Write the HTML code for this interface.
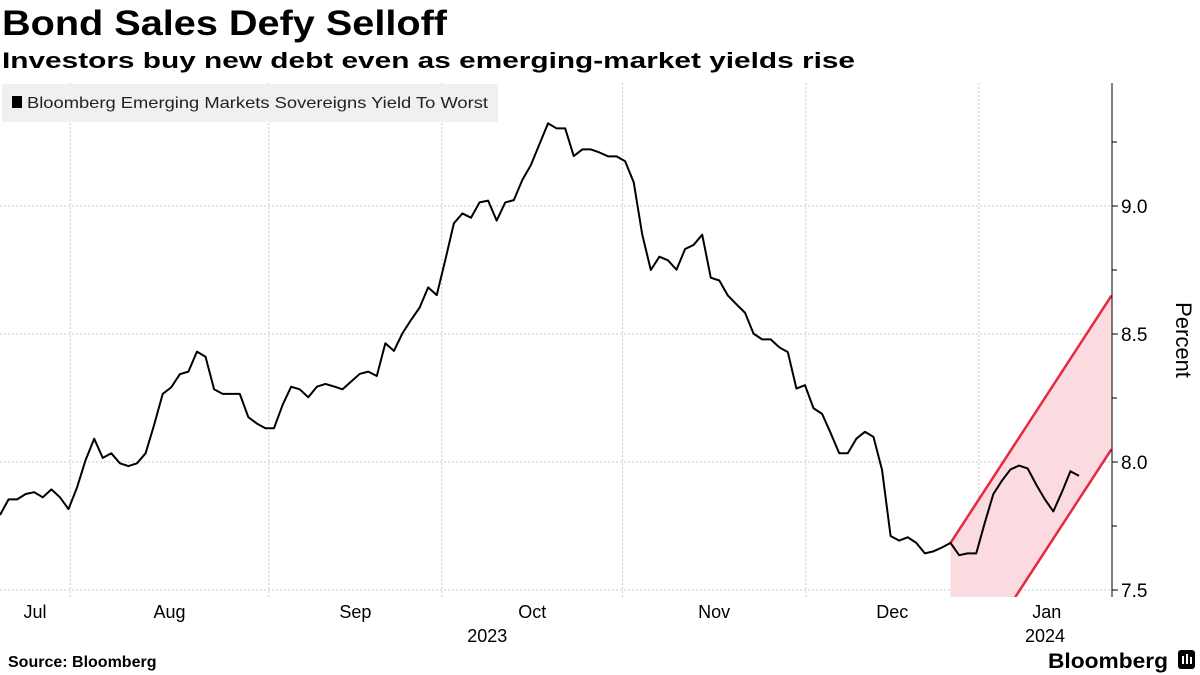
<!DOCTYPE html>
<html><head><meta charset="utf-8">
<style>
html,body{margin:0;padding:0;background:#fff;width:1200px;height:675px;overflow:hidden}
svg{display:block;font-family:"Liberation Sans",sans-serif}
</style></head>
<body>
<svg id="chart" width="1200" height="675" viewBox="0 0 1200 675">
<text x="2" y="35" font-size="35" font-weight="bold" fill="#000" textLength="445" lengthAdjust="spacingAndGlyphs">Bond Sales Defy Selloff</text>
<text x="2" y="68" font-size="22" font-weight="bold" fill="#000" textLength="853" lengthAdjust="spacingAndGlyphs">Investors buy new debt even as emerging-market yields rise</text>
<g id="grid"></g>
<g id="channel"></g>
<g id="series"></g>
<g id="axes"></g>
<g>
<rect x="2" y="84" width="496" height="38" fill="#f0f0f0"/>
<rect x="12" y="96" width="10" height="12" fill="#000"/>
<text x="27" y="108" font-size="16" fill="#222" textLength="461" lengthAdjust="spacingAndGlyphs">Bloomberg Emerging Markets Sovereigns Yield To Worst</text>
</g>
<text transform="translate(1176,340) rotate(90)" text-anchor="middle" font-size="22" fill="#000">Percent</text>
<text x="8" y="667" font-size="16" font-weight="bold" fill="#000">Source: Bloomberg</text>
<text x="1048" y="668" font-size="21" font-weight="bold" fill="#000" textLength="120" lengthAdjust="spacingAndGlyphs">Bloomberg</text>
<g>
<rect x="1178" y="650" width="17" height="19" rx="3" fill="#000"/>
<rect x="1182" y="656" width="2" height="8" fill="#fff"/><rect x="1186" y="654" width="2" height="10" fill="#fff"/><rect x="1190" y="657" width="2" height="7" fill="#fff"/>
</g>
</svg>
<script>
const values=[7.793,7.854,7.854,7.875,7.882,7.862,7.893,7.862,7.816,7.901,8.008,8.091,8.016,8.034,7.995,7.984,7.995,8.034,8.145,8.266,8.292,8.343,8.353,8.431,8.411,8.284,8.266,8.266,8.266,8.175,8.15,8.132,8.132,8.223,8.294,8.284,8.253,8.294,8.305,8.295,8.284,8.314,8.344,8.353,8.336,8.464,8.434,8.503,8.555,8.603,8.682,8.652,8.789,8.932,8.971,8.954,9.014,9.021,8.943,9.014,9.023,9.102,9.160,9.242,9.323,9.303,9.303,9.195,9.221,9.221,9.209,9.194,9.194,9.175,9.093,8.888,8.750,8.802,8.788,8.751,8.832,8.848,8.888,8.720,8.709,8.650,8.616,8.583,8.501,8.479,8.479,8.448,8.429,8.287,8.300,8.210,8.188,8.113,8.034,8.034,8.091,8.118,8.098,7.969,7.711,7.693,7.706,7.684,7.643,7.651,7.666,7.684,7.636,7.643,7.643,7.763,7.875,7.927,7.971,7.986,7.975,7.912,7.855,7.807,7.882,7.964,7.946];
const monthLabels=["Jul","Aug","Sep","Oct","Nov","Dec","Jan"];
const monthStartIdx=[-8.2,8.2,31.4,51.6,72.7,94.1,114.3,135.3];
const yearLabels=["2023","2024"];
const yearMonthIdx=[3,6];
const yTicks=[7.5,8.0,8.5,9.0];
const yMinor=[7.75,8.25,8.75,9.25];
const channelStartIdx=111;
const channelUpper=[7.684,8.65];
const channelLower=[7.084,8.05];
const channelEndIdx=129.8;

const NS="http://www.w3.org/2000/svg";
const L=0,R=1112,T=83,B=597;
const STEP=1079/126;
function xs(i){return L+i*STEP;}
function ys(v){return 590-(v-7.5)*256;}
function mk(tag,attrs,parent){const e=document.createElementNS(NS,tag);for(const k in attrs)e.setAttribute(k,attrs[k]);parent.appendChild(e);return e;}
const grid=document.getElementById('grid'),axes=document.getElementById('axes'),series=document.getElementById('series'),ch=document.getElementById('channel');

yTicks.forEach(v=>{
  const g=mk('line',{x1:L,x2:R,y1:ys(v),y2:ys(v),stroke:'#c8c8c8','stroke-dasharray':'2,2','stroke-width':1},grid);
  
  
  const t=mk('line',{x1:R,x2:R+6,y1:ys(v),y2:ys(v),stroke:'#000'},axes);
  
  
  const lb=mk('text',{x:R+9,y:ys(v)+7,'font-size':19,fill:'#000'},axes);
  lb.textContent=v.toFixed(1);
  
  
});
yMinor.forEach(v=>{
  const t=mk('line',{x1:R,x2:R+5,y1:ys(v),y2:ys(v),stroke:'#000'},axes);
  
  
});
monthLabels.forEach((m,k)=>{
  const x0=xs(monthStartIdx[k]),x1=xs(monthStartIdx[k+1]);
  if(k>0){
    const g=mk('line',{x1:x0,x2:x0,y1:T,y2:B,stroke:'#c8c8c8','stroke-dasharray':'2,2'},grid);
    
    
  }
  const cx=k==0?35:(x0+x1)/2-(k==6?22:0);
  const t=mk('text',{x:cx,y:618,'font-size':18,'text-anchor':'middle',fill:'#000'},axes);
  t.textContent=m;
  
  
});
yearLabels.forEach((y,k)=>{
  const mi=yearMonthIdx[k];
  const cx=mi==6?1045:(xs(monthStartIdx[mi])+xs(monthStartIdx[mi+1]))/2-45;
  const t=mk('text',{x:cx,y:642,'font-size':18,'text-anchor':'middle',fill:'#000'},axes);
  t.textContent=y;
  
  
});
const ax=mk('line',{x1:R,x2:R,y1:T,y2:B,stroke:'#000','stroke-width':1},axes);



const cp=mk('clipPath',{id:'plotclip'},ch);
mk('rect',{x:L,y:T,width:R-L,height:B-T},cp);
const cg=mk('g',{'clip-path':'url(#plotclip)'},ch);
const xa=xs(channelStartIdx),xb=xs(channelEndIdx);
const poly=mk('polygon',{points:`${xa},${ys(channelUpper[0])} ${xb},${ys(channelUpper[1])} ${xb},${ys(channelLower[1])} ${xa},${ys(channelLower[0])}`,fill:'#fcdbe0'},cg);


const lu=mk('line',{x1:xa,y1:ys(channelUpper[0]),x2:xb,y2:ys(channelUpper[1]),stroke:'#e8283f','stroke-width':2.5},cg);


const ll=mk('line',{x1:xa,y1:ys(channelLower[0]),x2:xb,y2:ys(channelLower[1]),stroke:'#e8283f','stroke-width':2.5},cg);



const p=mk('polyline',{points:values.map((v,i)=>xs(i)+','+ys(v)).join(' '),fill:'none',stroke:'#000','stroke-width':2,'stroke-linejoin':'round'},series);


</script>
</body></html>
